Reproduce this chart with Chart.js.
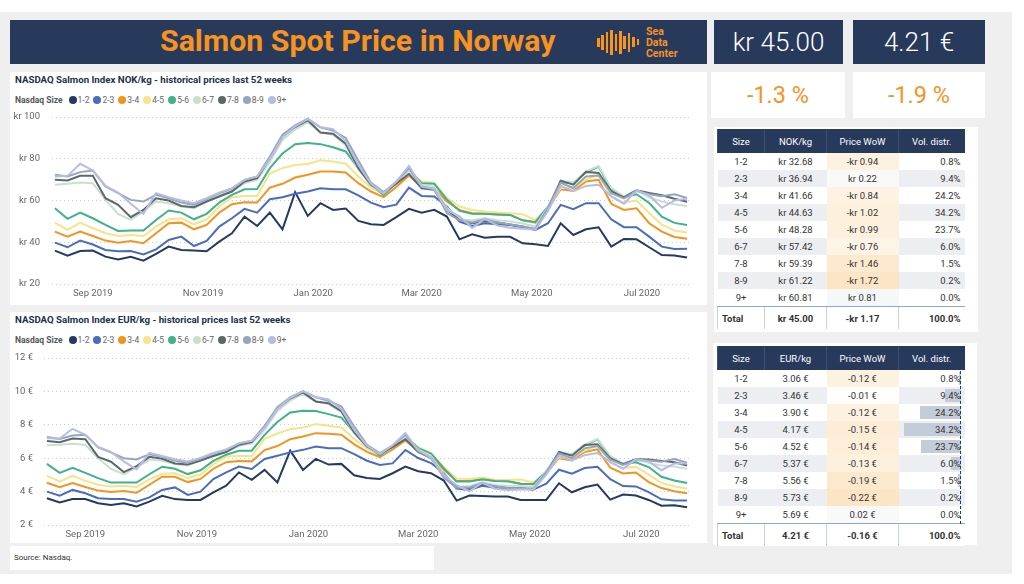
<!DOCTYPE html>
<html>
<head>
<meta charset="utf-8">
<script src="https://cdn.jsdelivr.net/npm/chart.js@4.4.1/dist/chart.umd.min.js"></script>
<style>
  body { margin:0; width:1024px; height:584px; background:#fff; font-family:Roboto, 'Noto Sans', sans-serif; position:relative; overflow:hidden; }
  .abs { position:absolute; }
  #bg { left:0; top:12px; width:1012px; height:562px; background:#efefef; }
  .navy { background:#283a5c; }
  .white { background:#fff; }
  #head h1 { position:absolute; left:150px; top:3px; margin:0; font:700 30.3px Roboto; color:#f7931e; letter-spacing:0; }
  .kpi { color:#fff; font:300 26px Roboto; display:flex; align-items:center; justify-content:center; }
  .pct { color:#f7931e; font:400 23.5px Roboto; display:flex; align-items:center; justify-content:center; }
  .ctitle { position:absolute; left:5px; top:2px; font:700 9.7px Roboto; color:#252f4a; }
  .legend { position:absolute; left:5px; top:23px; display:flex; align-items:center; font:8.5px Roboto; color:#666; }
  .legend b { color:#555; margin-right:6px; }
  .legend i { display:inline-block; width:8px; height:8px; border-radius:50%; margin-right:1px; }
  .legend span { margin-right:4px; }
  table.t { position:absolute; border-collapse:collapse; font:9.5px Roboto; color:#333; table-layout:fixed; }
  table.t th { background:#283a5c; color:#fff; font-weight:400; height:24px; padding:0; border-left:1px solid #3d4f72; }
  table.t td { height:17px; padding:0 4px; text-align:center; position:relative; }
  table.t td.r { text-align:right; }
  table.t tr.alt td { background:#eceef2; }
  table.t tr.tot td { font-weight:700; border-top:1px solid #8fa6d8; border-left:1px solid #c5d0ea; height:22px; background:#fff; }
  table.t tr.tot td.l { text-align:left; }
  .bar { position:absolute; right:4px; top:2px; bottom:2px; background:#c4ccd9; }
  .bartxt { position:relative; }
  #logo i { position:absolute; width:2.5px; background:#f7931e; }
  #logo div { position:absolute; left:49px; font:700 10.5px Roboto; color:#f7931e; line-height:11px; }
</style>
</head>
<body>
<div id="bg" class="abs"></div>

<div id="head" class="abs navy" style="left:10px;top:20px;width:697px;height:44px;">
  <h1>Salmon Spot Price in Norway</h1>
  <div id="logo" class="abs" style="left:587px;top:0;width:100px;height:44px;"></div>
</div>
<div id="kpiNok" class="abs navy kpi" style="left:714px;top:20px;width:129px;height:44px;"></div>
<div id="kpiEur" class="abs navy kpi" style="left:853px;top:20px;width:132px;height:44px;"></div>
<div id="pctNok" class="abs white pct" style="left:711px;top:72px;width:134px;height:46px;"></div>
<div id="pctEur" class="abs white pct" style="left:853px;top:72px;width:132px;height:46px;"></div>

<div class="abs white" style="left:10px;top:72px;width:697px;height:233px;">
  <div class="ctitle">NASDAQ Salmon Index NOK/kg - historical prices last 52 weeks</div>
  <div class="legend" id="legNok"></div>
</div>
<canvas id="nokChart" class="abs" width="697" height="194" style="left:10px;top:108px;"></canvas>

<div class="abs white" style="left:10px;top:312px;width:697px;height:231px;">
  <div class="ctitle">NASDAQ Salmon Index EUR/kg - historical prices last 52 weeks</div>
  <div class="legend" id="legEur"></div>
</div>
<canvas id="eurChart" class="abs" width="697" height="194" style="left:10px;top:349px;"></canvas>

<div class="abs white" style="left:714px;top:127px;width:264px;height:205px;"></div>
<table class="t" id="tabNok" style="left:717px;top:129px;width:247px;"></table>
<div class="abs white" style="left:713px;top:343px;width:264px;height:202px;"></div>
<table class="t" id="tabEur" style="left:717px;top:346px;width:247px;"></table>

<div class="abs white" style="left:10px;top:546px;width:424px;height:24px;font:8px Roboto;color:#333;line-height:24px;padding-left:4px;box-sizing:border-box;">Source: Nasdaq.</div>

<script>
// Uker (søndag som dato for ukenummer)
const weeks = ['2019-08-11','2019-08-18','2019-08-25','2019-09-01','2019-09-08','2019-09-15','2019-09-22','2019-09-29',
  '2019-10-06','2019-10-13','2019-10-20','2019-10-27','2019-11-03','2019-11-10','2019-11-17','2019-11-24',
  '2019-12-01','2019-12-08','2019-12-15','2019-12-22','2019-12-29','2020-01-05','2020-01-12','2020-01-19','2020-01-26',
  '2020-02-02','2020-02-09','2020-02-16','2020-02-23','2020-03-01','2020-03-08','2020-03-15','2020-03-22','2020-03-29',
  '2020-04-05','2020-04-12','2020-04-19','2020-04-26','2020-05-03','2020-05-10','2020-05-17','2020-05-24','2020-05-31',
  '2020-06-07','2020-06-14','2020-06-21','2020-06-28','2020-07-05','2020-07-12','2020-07-19','2020-07-26'];

const monthTicks = ['2019-09-01','2019-11-01','2020-01-01','2020-03-01','2020-05-01','2020-07-01'];
const monthLabels = ['Sep 2019','Nov 2019','Jan 2020','Mar 2020','May 2020','Jul 2020'];
const nokTicks = [20, 40, 60, 80, 100];
const eurTicks = [2, 4, 6, 8, 10, 12];

const sizes = ['1-2','2-3','3-4','4-5','5-6','6-7','7-8','8-9','9+'];

// NOK/kg per størrelse
const nok12 = [36.0,33.6,35.8,36.0,33.1,31.8,33.0,31.2,34.4,37.9,36.3,36.0,35.7,40.3,44.3,52.3,47.8,54.2,46.2,64.0,52.6,58.7,55.5,56.2,50.2,48.6,48.3,52.0,56.0,54.2,55.5,52.3,41.4,43.8,42.2,42.6,42.6,39.5,39.0,38.2,49.1,43.5,46.2,47.2,37.9,41.6,41.4,37.6,33.9,33.62,32.68];
const nok23 = [39.8,37.6,40.8,38.9,36.3,35.7,35.8,34.2,36.6,41.1,42.7,38.2,40.6,47.5,51.5,56.0,54.2,60.6,61.6,63.2,64.3,65.9,65.4,65.4,62.5,59.0,56.8,58.0,66.2,62.2,61.9,57.1,49.9,47.8,49.1,48.6,48.3,47.2,45.9,49.1,57.9,55.8,58.7,58.7,51.0,47.2,47.2,42.7,37.9,36.72,36.94];
const nok34 = [45.1,42.7,45.1,43.0,40.8,39.8,40.6,39.5,44.3,49.1,49.4,46.2,48.3,54.2,58.2,59.2,59.0,66.2,68.0,71.0,72.3,73.9,73.9,73.4,68.3,64.3,61.6,66.5,72.0,66.4,65.9,59.5,55.5,53.9,53.6,53.3,53.1,50.5,49.4,56.0,65.4,64.6,69.1,69.9,58.4,55.5,56.3,49.1,45.1,42.50,41.66];
const nok45 = [49.4,45.9,49.4,46.7,44.3,43.0,43.5,43.0,47.5,51.0,51.5,48.6,51.0,57.1,61.6,62.2,62.2,73.0,75.5,77.0,77.5,79.3,78.7,77.6,71.5,66.2,63.2,68.6,74.7,69.0,68.5,61.1,57.1,55.5,54.7,54.2,53.9,53.4,50.7,56.5,66.0,66.0,70.0,72.3,62.0,59.0,60.0,54.0,48.4,45.65,44.63];
const nok56 = [56.3,51.2,54.2,51.5,48.3,45.4,45.6,45.6,50.7,55.2,54.2,51.0,53.6,59.0,62.7,65.4,65.5,75.5,82.5,87.0,87.5,87.0,85.5,83.5,75.5,67.5,62.7,68.3,74.7,68.3,68.0,60.5,55.0,53.7,53.6,53.3,53.1,50.5,49.7,57.0,68.5,68.5,73.4,76.3,65.1,61.6,63.0,58.8,52.3,49.27,48.28];
const nok67 = [67.5,68.0,68.6,68.3,60.3,53.6,50.7,54.7,59.5,58.7,57.1,56.3,59.5,62.7,64.3,68.3,69.9,78.5,89.0,94.0,97.5,92.5,91.5,86.5,75.0,67.0,63.5,68.5,74.5,67.5,66.5,56.5,51.0,50.5,51.5,50.5,50.0,49.0,47.5,57.0,69.5,68.5,74.0,76.5,66.0,62.0,65.0,61.5,59.5,58.18,57.42];
const nok78 = [69.9,69.6,71.8,71.8,61.1,57.9,52.0,55.5,61.1,60.0,57.4,56.8,59.5,61.9,64.3,69.1,70.7,80.3,90.7,95.2,98.4,92.6,92.0,87.2,75.5,67.5,63.8,68.0,72.8,65.9,65.1,55.5,50.7,49.1,50.0,49.5,48.5,47.5,46.0,56.0,69.5,67.6,73.7,73.2,64.4,61.5,64.9,63.6,62.5,60.85,59.39];
const nok89 = [72.3,71.5,73.6,74.4,66.7,63.5,60.3,59.5,62.7,61.1,59.0,57.9,60.6,63.5,65.6,69.9,71.5,81.0,91.5,96.0,99.2,95.0,93.5,90.0,79.0,68.5,64.0,69.0,75.5,66.5,65.5,54.0,50.5,49.5,51.0,49.5,48.5,47.5,46.5,56.5,68.5,66.0,71.5,72.0,63.5,61.0,64.5,63.0,62.0,62.94,61.22];
const nok9p = [71.5,71.8,77.6,74.4,67.0,63.8,58.4,53.6,63.5,61.6,60.0,58.7,61.1,63.8,65.9,69.9,71.5,79.8,90.4,95.5,99.0,95.2,94.2,88.5,77.0,68.0,63.5,69.1,76.6,67.0,65.5,55.5,52.4,46.8,51.3,48.0,47.0,46.5,46.0,55.0,67.0,64.5,67.0,67.5,62.0,58.5,64.9,62.5,56.5,60.00,60.81];

// EUR/kg per størrelse
const eur12 = [3.60,3.35,3.55,3.55,3.30,3.20,3.30,3.11,3.40,3.75,3.55,3.50,3.50,3.95,4.35,5.15,4.70,5.30,4.55,6.45,5.30,5.96,5.62,5.66,4.98,4.82,4.76,5.10,5.50,5.22,5.10,4.66,3.46,3.76,3.74,3.70,3.70,3.50,3.50,3.50,4.50,3.96,4.26,4.42,3.52,3.82,3.76,3.50,3.16,3.18,3.06];
const eur23 = [4.00,3.75,4.10,3.90,3.60,3.55,3.55,3.40,3.65,4.10,4.25,3.80,4.00,4.75,5.15,5.50,5.35,5.95,6.15,6.35,6.50,6.70,6.60,6.60,6.25,5.85,5.60,5.69,6.49,6.01,5.71,5.10,4.18,4.10,4.35,4.23,4.20,4.18,4.12,4.48,5.31,5.07,5.41,5.49,4.74,4.33,4.31,3.97,3.54,3.47,3.46];
const eur34 = [4.53,4.27,4.51,4.28,4.06,3.98,4.04,3.93,4.41,4.89,4.89,4.57,4.76,5.37,5.76,5.83,5.81,6.49,6.73,7.14,7.30,7.50,7.46,7.41,6.83,6.38,6.07,6.52,7.06,6.42,6.07,5.31,4.64,4.63,4.74,4.63,4.62,4.47,4.43,5.11,6.00,5.87,6.37,6.53,5.43,5.09,5.14,4.57,4.21,4.02,3.90];
const eur45 = [4.96,4.59,4.94,4.65,4.41,4.30,4.33,4.28,4.73,5.07,5.10,4.81,5.02,5.65,6.10,6.13,6.13,7.16,7.48,7.74,7.83,8.05,7.95,7.84,7.15,6.57,6.23,6.73,7.32,6.67,6.31,5.46,4.78,4.76,4.84,4.71,4.69,4.73,4.55,5.16,6.06,6.00,6.45,6.76,5.77,5.41,5.48,5.02,4.52,4.32,4.17];
const eur56 = [5.66,5.12,5.42,5.12,4.81,4.54,4.54,4.54,5.04,5.49,5.37,5.05,5.28,5.84,6.21,6.44,6.45,7.40,8.17,8.74,8.84,8.83,8.64,8.43,7.55,6.70,6.18,6.70,7.32,6.60,6.27,5.40,4.60,4.61,4.74,4.63,4.62,4.47,4.46,5.21,6.28,6.23,6.76,7.13,6.06,5.65,5.75,5.47,4.89,4.66,4.52];
const eur67 = [6.78,6.80,6.86,6.80,6.00,5.36,5.04,5.44,5.92,5.84,5.65,5.57,5.86,6.21,6.37,6.73,6.89,7.70,8.81,9.45,9.85,9.39,9.24,8.74,7.50,6.65,6.26,6.72,7.30,6.52,6.13,5.04,4.27,4.33,4.56,4.39,4.35,4.34,4.26,5.21,6.38,6.23,6.82,7.15,6.14,5.69,5.94,5.72,5.56,5.50,5.37];
const eur78 = [7.03,6.96,7.18,7.14,6.08,5.79,5.17,5.52,6.08,5.97,5.68,5.62,5.86,6.13,6.37,6.81,6.97,7.87,8.98,9.57,9.94,9.40,9.29,8.81,7.55,6.70,6.29,6.67,7.14,6.37,6.00,4.96,4.24,4.21,4.42,4.30,4.22,4.20,4.13,5.11,6.38,6.15,6.79,6.84,5.99,5.64,5.93,5.92,5.84,5.76,5.56];
const eur89 = [7.27,7.15,7.36,7.40,6.64,6.35,6.00,5.92,6.24,6.08,5.84,5.73,5.97,6.29,6.50,6.89,7.04,7.94,9.06,9.65,10.02,9.64,9.44,9.09,7.90,6.80,6.31,6.76,7.40,6.43,6.04,4.82,4.23,4.25,4.51,4.30,4.22,4.20,4.17,5.16,6.28,6.00,6.59,6.73,5.91,5.60,5.89,5.86,5.79,5.95,5.73];
const eur9p = [7.19,7.18,7.76,7.40,6.67,6.38,5.81,5.33,6.32,6.13,5.94,5.81,6.02,6.32,6.52,6.89,7.04,7.82,8.95,9.60,10.00,9.66,9.52,8.94,7.70,6.75,6.26,6.77,7.51,6.47,6.04,4.96,4.38,4.02,4.54,4.17,4.09,4.12,4.13,5.02,6.15,5.86,6.18,6.31,5.77,5.37,5.93,5.81,5.28,5.68,5.69];

// Tabeller
const nokPrice = [32.68,36.94,41.66,44.63,48.28,57.42,59.39,61.22,60.81];
const nokWow = [-0.94,0.22,-0.84,-1.02,-0.99,-0.76,-1.46,-1.72,0.81];
const eurPrice = [3.06,3.46,3.90,4.17,4.52,5.37,5.56,5.73,5.69];
const eurWow = [-0.12,-0.01,-0.12,-0.15,-0.14,-0.13,-0.19,-0.22,0.02];
const volDistr = [0.8,9.4,24.2,34.2,23.7,6.0,1.5,0.2,0.0];
const nokTotal = ['kr 45.00', '-kr 1.17', '100.0%'];
const eurTotal = ['4.21 €', '-0.16 €', '100.0%'];
const kpis = { nok:'kr 45.00', eur:'4.21 €', nokPct:'-1.3 %', eurPct:'-1.9 %' };

const sizeColors = ['#243a62','#4a6bbf','#f39320','#f6e38a','#3eb28b','#c7e1cf','#5d6967','#93a6bf','#b6bce6'];

// ---- KPI / logo ----
document.getElementById('kpiNok').textContent = kpis.nok;
document.getElementById('kpiEur').textContent = kpis.eur;
document.getElementById('pctNok').textContent = kpis.nokPct;
document.getElementById('pctEur').textContent = kpis.eurPct;

const logo = document.getElementById('logo');
[9,15,21,25,17,23,13,19,10,6].forEach((h, k) => {
  logo.innerHTML += `<i style="left:${k * 4.4}px;top:${22 - h / 2}px;height:${h}px"></i>`;
});
logo.innerHTML += '<div style="top:6px">Sea</div><div style="top:17px">Data</div><div style="top:28px">Center</div>';

// ---- legender ----
function legend(id) {
  let html = '<b>Nasdaq Size</b>';
  sizes.forEach((s, k) => { html += `<i style="background:${sizeColors[k]}"></i><span>${s}</span>`; });
  document.getElementById(id).innerHTML = html;
}
legend('legNok');
legend('legEur');

// ---- diagrammer ----
const dayOf = d => (Date.parse(d) - Date.parse(weeks[0])) / 864e5;

function lineChart(id, series, yTicks, yFmt, yWidth, yGap) {
  return new Chart(document.getElementById(id), {
    type: 'line',
    data: {
      datasets: sizes.map((s, k) => ({
        label: s,
        data: series[k].map((v, i) => ({ x: dayOf(weeks[i]), y: v })),
        borderColor: sizeColors[k],
        borderWidth: 2,
        pointRadius: 0,
        order: sizes.length - k
      }))
    },
    options: {
      responsive: false,
      animation: false,
      events: [],
      layout: { padding: { top: 9, right: 17, left: 0, bottom: 0 } },
      plugins: { legend: { display: false }, tooltip: { enabled: false } },
      scales: {
        x: {
          type: 'linear', min: -1.6, max: 351.6,
          grid: { display: false, drawTicks: false }, border: { display: false },
          afterBuildTicks: sc => { sc.ticks = monthTicks.map(d => ({ value: dayOf(d) })); },
          afterFit: sc => { sc.height = 18; },
          ticks: { autoSkip: false, maxRotation: 0, padding: 4, color: '#666', font: { size: 9.5 },
                   callback: (v, i) => monthLabels[i] }
        },
        y: {
          min: yTicks[0], max: yTicks[yTicks.length - 1],
          afterBuildTicks: sc => { sc.ticks = yTicks.map(v => ({ value: v })); },
          afterFit: sc => { sc.width = yWidth; },
          grid: { color: '#c9c9c9', drawTicks: true, tickLength: yGap, tickColor: 'rgba(0,0,0,0)', lineWidth: 1 },
          border: { display: false, dash: [1, 3] },
          ticks: { padding: 0, color: '#666', font: { size: 9.5 }, callback: v => yFmt(v) }
        }
      }
    }
  });
}

Chart.defaults.font.family = 'Roboto';
lineChart('nokChart', [nok12, nok23, nok34, nok45, nok56, nok67, nok78, nok89, nok9p], nokTicks, v => 'kr ' + v, 42, 12);
lineChart('eurChart', [eur12, eur23, eur34, eur45, eur56, eur67, eur78, eur89, eur9p], eurTicks, v => v + ' €', 34, 11);

// ---- tabeller ----
const fmtNok = v => (v < 0 ? '-kr ' : 'kr ') + Math.abs(v).toFixed(2);
const fmtEur = v => v.toFixed(2) + ' €';

function wowColor(v, max) {
  const a = Math.abs(v) / max;
  if (v < 0) return `rgb(${Math.round(255 - a * 3)},${Math.round(255 - a * 26)},${Math.round(255 - a * 58)})`;
  return `rgb(${Math.round(250 - a * 10)},${Math.round(250 - a * 6)},${Math.round(250 - a * 4)})`;
}

function buildTable(id, unit, prices, wows, fmt, totals, withBars) {
  const maxW = Math.max(...wows.map(Math.abs));
  const maxV = Math.max(...volDistr);
  let html = '<colgroup><col style="width:47px"><col style="width:62px"><col style="width:72px"><col style="width:66px"></colgroup>';
  html += `<tr><th>Size</th><th>${unit}</th><th>Price WoW</th><th>Vol. distr.</th></tr>`;
  sizes.forEach((s, k) => {
    const bar = withBars ? `<div class="bar" style="width:${(volDistr[k] / maxV * 57).toFixed(1)}px"></div>` : '';
    html += `<tr class="${k % 2 ? 'alt' : ''}"><td>${s}</td><td>${fmt(prices[k])}</td>` +
      `<td style="background:${wowColor(wows[k], maxW)}">${fmt(wows[k])}</td>` +
      `<td class="r">${bar}<span class="bartxt">${volDistr[k].toFixed(1)}%</span></td></tr>`;
  });
  html += `<tr class="tot"><td class="l">Total</td><td>${totals[0]}</td><td>${totals[1]}</td><td class="r">${totals[2]}</td></tr>`;
  document.getElementById(id).innerHTML = html;
}
buildTable('tabNok', 'NOK/kg', nokPrice, nokWow, fmtNok, nokTotal, false);
buildTable('tabEur', 'EUR/kg', eurPrice, eurWow, fmtEur, eurTotal, true);

// stiplet akse for datastolpene
const axis = document.createElement('div');
axis.className = 'abs';
axis.style.cssText = 'left:960px;top:371px;height:153px;border-left:1px dashed #283a5c;';
document.body.appendChild(axis);
</script>
</body>
</html>
